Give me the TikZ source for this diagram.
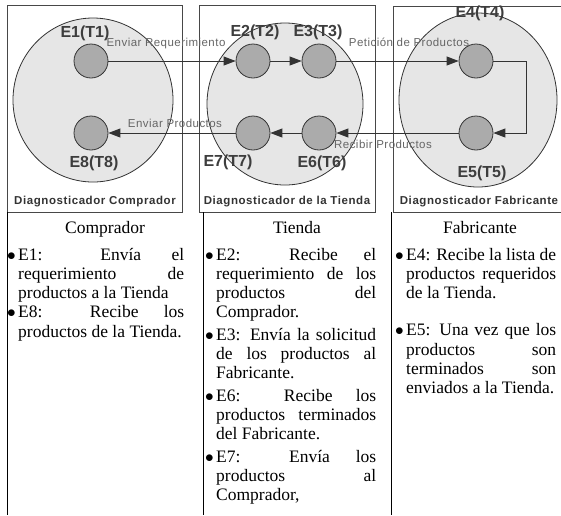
\documentclass[tikz,border=0pt]{standalone}
\usepackage{fontspec}
\setmainfont{Liberation Serif}
\setsansfont{Liberation Sans}
\newfontfamily\agentfont[LetterSpace=5]{Liberation Sans}
\newfontfamily\msgfont[LetterSpace=4]{Liberation Sans}
\usetikzlibrary{arrows.meta}

\definecolor{outerfill}{HTML}{E6E6E6}
\definecolor{innerfill}{HTML}{ABABAB}
\definecolor{ink}{HTML}{333333}
\definecolor{msggray}{HTML}{666666}

% bullet hanging in the left margin
\newcommand\itm{\par\tolerance=10000\noindent\strut\llap{$\bullet$\hspace{2.5pt}}}

\tikzset{
  frame/.style={draw=ink!90, line width=0.8pt},
  region/.style={draw=ink, fill=outerfill, line width=0.8pt},
  evt/.style={circle, draw=ink, fill=innerfill, minimum size=34pt, inner sep=0pt, line width=0.8pt},
  evname/.style={font=\sffamily\bfseries\fontsize{16}{16}\selectfont, text=ink!95},
  agent/.style={font=\agentfont\bfseries\fontsize{11.5}{11.5}\selectfont, text=ink},
  msg/.style={font=\msgfont\fontsize{11.5}{11.5}\selectfont, text=msggray, inner sep=0pt},
  flow/.style={draw=ink, line width=0.9pt, -{Triangle[length=12pt,width=9pt]}},
  rule/.style={draw=black, line width=0.8pt},
  head/.style={anchor=base, inner sep=0pt, font=\fontsize{17.5}{19.3}\selectfont},
  col/.style={anchor=north west, inner sep=0pt, align=justify, font=\fontsize{17.5}{19.3}\selectfont},
}

\begin{document}
\begin{tikzpicture}[x=1pt, y=-1pt]
  \useasboundingbox (0,0) rectangle (561,515);

  % diagnoser frames
  \draw[frame] (7,5) rectangle (182,212);
  \draw[frame] (199,5) rectangle (375,212);
  \draw[frame] (561,6) -- (393,6) -- (393,212) -- (561,212);

  % diagnoser regions
  \draw[region] (93,100) ellipse [x radius=80, y radius=82];
  \draw[region] (285,104) ellipse [x radius=78, y radius=81];
  \draw[region] (478,100) ellipse [x radius=79, y radius=87];

  % events
  \node[evt] (e1) at (91,61) {};
  \node[evt] (e8) at (91,133) {};
  \node[evt] (e2) at (253,61) {};
  \node[evt] (e3) at (319,61) {};
  \node[evt] (e7) at (253,133) {};
  \node[evt] (e6) at (319,133) {};
  \node[evt] (e4) at (476,61) {};
  \node[evt] (e5) at (476,133) {};

  % event names
  \node[evname] (n1) at (85,33) {E1(T1)};
  \node[evname] (n8) at (94,163) {E8(T8)};
  \node[evname] (n2) at (255,32) {E2(T2)};
  \node[evname] (n3) at (318,32) {E3(T3)};
  \node[evname] (n7) at (228,162) {E7(T7)};
  \node[evname] (n6) at (322,163) {E6(T6)};
  \node[evname] (n4) at (480,13) {E4(T4)};
  \node[evname] (n5) at (482,173) {E5(T5)};

  % diagnoser names
  \node[agent] (a1) at (95,202) {Diagnosticador Comprador};
  \node[agent] (a2) at (287,202) {Diagnosticador de la Tienda};
  \node[agent] (a3) at (479,202) {Diagnosticador Fabricante};

  % message flow
  \draw[flow] (e1) -- (e2);
  \draw[flow] (e2) -- (e3);
  \draw[flow] (e3) -- (e4);
  \draw[flow] (e4.east) -- ++(33,0) |- (e5.east);
  \draw[flow] (e5) -- (e6);
  \draw[flow] (e6) -- (e7);
  \draw[flow] (e7) -- (e8);

  \node[msg] (m1) at (166,44) {Enviar Requerimiento};
  \node[msg] (m2) at (409,42) {Petición de Productos};
  \node[msg] (m3) at (383,144) {Recibir Productos};
  \node[msg] (m4) at (175,123) {Enviar Productos};

  % table below
  \draw[rule] (7.5,212) -- (7.5,515);
  \draw[rule] (203,212) -- (203,515);
  \draw[rule] (391,212) -- (391,515);

  \node[head] (h1) at (105,233) {Comprador};
  \node[head] (h2) at (297,233) {Tienda};
  \node[head] (h3) at (480,233) {Fabricante};

  \node[col, text width=166pt] (c1) at (18,240.5) {%
    \itm E1: Envía el\linebreak requerimiento de\linebreak productos a la Tienda
    \itm E8: Recibe los\linebreak productos de la Tienda.\par};
  \node[col, text width=160pt] (c2) at (216,240.5) {%
    \itm E2: Recibe el\linebreak requerimiento de los\linebreak productos del\linebreak Comprador.
    \par\vspace{3pt}
    \itm E3: Envía la solicitud\linebreak de los productos al\linebreak Fabricante.
    \par\vspace{3pt}
    \itm E6: Recibe los\linebreak productos terminados\linebreak del Fabricante.
    \par\vspace{3pt}
    \itm E7: Envía los\linebreak productos al\linebreak Comprador,\par};
  \node[col, text width=150pt] (c3) at (406,240.5) {%
    \itm E4: Recibe la lista de\linebreak productos requeridos\linebreak de la Tienda.
    \par\vspace{18pt}
    \itm E5: Una vez que los\linebreak productos son\linebreak terminados son\linebreak enviados a la Tienda.\par};
\end{tikzpicture}
\end{document}
